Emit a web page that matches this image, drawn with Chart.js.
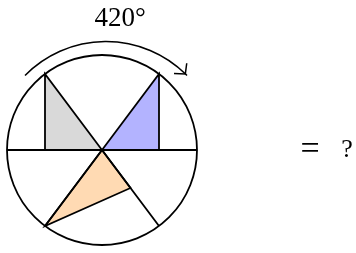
<!DOCTYPE html>
<html>
<head>
<meta charset="utf-8">
<script src="https://cdn.jsdelivr.net/npm/chart.js@4"></script>
<style>
  html, body { margin: 0; padding: 0; background: #fff; }
  #wrap { width: 356px; height: 253px; }
</style>
</head>
<body>
<div id="wrap"><canvas id="chart-area"></canvas></div>
<script>
// geometry, in units of the circle radius
var circleCenter = [0, 0];
var circleRadius = 1;
var diameter = [[-1, 0], [1, 0]];
var grayTri = [[0, 0], [-0.6, 0.8], [-0.6, 0]];
var blueTri = [[0, 0], [0.6, 0.8], [0.6, 0]];
var orangeTri = [[0, 0], [-0.6, -0.8], [0.3, -0.4]];
var lowerSpokes = [[-0.6, -0.8], [0, 0], [0.6, -0.8]];

// rotation arrow
var arrowCenter = [0.042, -0.053];
var arrowRadius = 1.195;
var arrowAngles = [135.5, 44.5];
var arrowHead = [[0.758, 0.805], [0.877, 0.8], [0.892, 0.913]];

// texts
var angleLabel = '420\u00B0';
var anglePos = [0.19, 1.38];
var eqLabel = '=';
var eqPos = [2.19, 0.0];
var askLabel = '?';
var askPos = [2.58, 0.0];

function pts(arr) {
  return arr.map(function (p) { return {x: p[0], y: p[1]}; });
}
function closed(arr) {
  return pts(arr.concat([arr[0]]));
}
function lineSet(data) {
  return {
    data: data,
    showLine: true,
    borderColor: '#000',
    borderWidth: 1.8,
    pointRadius: 0,
    fill: false
  };
}

var fills = [
  {shape: grayTri, color: '#d9d9d9'},
  {shape: blueTri, color: '#b3b3ff'},
  {shape: orangeTri, color: '#ffdab3'}
];

var sketch = {
  id: 'sketch',
  beforeDatasetsDraw: function (chart) {
    var ctx = chart.ctx;
    var sx = chart.scales.x, sy = chart.scales.y;
    ctx.save();
    fills.forEach(function (f) {
      ctx.beginPath();
      f.shape.forEach(function (p, i) {
        var px = sx.getPixelForValue(p[0]), py = sy.getPixelForValue(p[1]);
        if (i === 0) ctx.moveTo(px, py); else ctx.lineTo(px, py);
      });
      ctx.closePath();
      ctx.fillStyle = f.color;
      ctx.fill();
    });
    ctx.restore();
  },
  afterDatasetsDraw: function (chart) {
    var ctx = chart.ctx;
    var sx = chart.scales.x, sy = chart.scales.y;
    var unit = sx.getPixelForValue(1) - sx.getPixelForValue(0);
    ctx.save();
    ctx.strokeStyle = '#000';
    ctx.lineWidth = 1.8;
    // circle
    ctx.beginPath();
    ctx.arc(sx.getPixelForValue(circleCenter[0]), sy.getPixelForValue(circleCenter[1]),
      circleRadius * unit, 0, Math.PI * 2);
    ctx.stroke();
    // rotation arc
    ctx.lineWidth = 1.5;
    ctx.beginPath();
    ctx.arc(sx.getPixelForValue(arrowCenter[0]), sy.getPixelForValue(arrowCenter[1]),
      arrowRadius * unit, -arrowAngles[0] * Math.PI / 180, -arrowAngles[1] * Math.PI / 180, false);
    ctx.stroke();
    // texts
    ctx.fillStyle = '#000';
    ctx.textAlign = 'center';
    ctx.textBaseline = 'middle';
    ctx.font = '27px "Liberation Serif"';
    ctx.fillText(angleLabel, sx.getPixelForValue(anglePos[0]), sy.getPixelForValue(anglePos[1]));
    ctx.font = '34px "Liberation Serif"';
    ctx.fillText(eqLabel, sx.getPixelForValue(eqPos[0]), sy.getPixelForValue(eqPos[1]));
    ctx.font = '26px "Liberation Serif"';
    ctx.fillText(askLabel, sx.getPixelForValue(askPos[0]), sy.getPixelForValue(askPos[1]));
    ctx.restore();
  }
};

var headSet = lineSet(pts(arrowHead));
headSet.borderWidth = 1.5;

var config = {
  type: 'scatter',
  data: {
    datasets: [
      lineSet(pts(diameter)),
      lineSet(closed(grayTri)),
      lineSet(closed(blueTri)),
      lineSet(closed(orangeTri)),
      lineSet(pts(lowerSpokes)),
      headSet
    ]
  },
  options: {
    responsive: true,
    maintainAspectRatio: false,
    animation: false,
    layout: { padding: 0 },
    plugins: { legend: { display: false }, tooltip: { enabled: false } },
    scales: {
      x: { type: 'linear', display: false, min: -102 / 95, max: 254 / 95 },
      y: { type: 'linear', display: false, min: -103 / 95, max: 150 / 95 }
    }
  },
  plugins: [sketch]
};

window.onload = function () {
  var ctx = document.getElementById('chart-area').getContext('2d');
  window.myChart = new Chart(ctx, config);
};
</script>
</body>
</html>
